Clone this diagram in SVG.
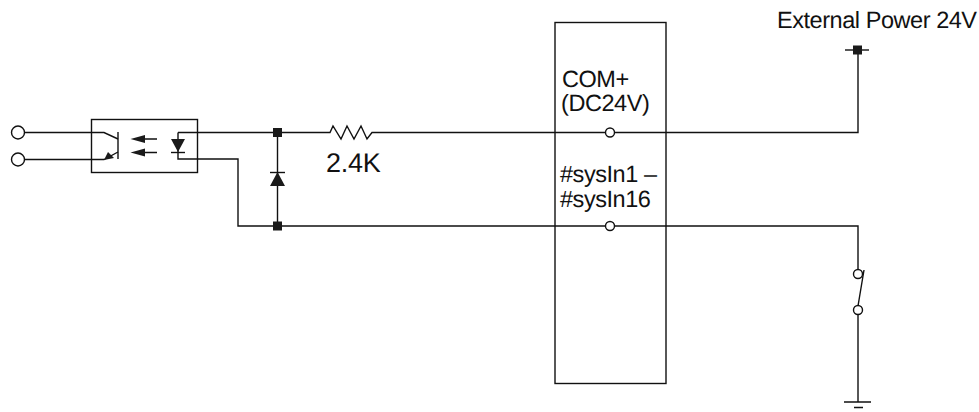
<svg xmlns="http://www.w3.org/2000/svg" width="979" height="412" viewBox="0 0 979 412">
<style>
.w{fill:none;stroke:#111;stroke-width:1.4}
.o{fill:#fff;stroke:#111;stroke-width:1.4}
.k{fill:#1a1a1a;stroke:none}
.t{font-family:"Liberation Sans",Arial,sans-serif;font-size:23.5px;letter-spacing:-0.45px;text-rendering:geometricPrecision;fill:#111}
</style>
<rect width="979" height="412" fill="#fff"/>
<g id="connectors">
<path class="w" d="M25 132.500H104L118 139M25 159.500H104L118 152"/>
<path class="w" d="M178 132.500H330L333 126L341 139L347 126L354 139L361 126L367 139L372 132.500H605"/>
<path class="w" d="M178 132.500V159H238V226H605"/>
<path class="w" d="M277.500 132.500V226"/>
<path class="w" d="M615 132.500H858V50"/>
<path class="w" d="M615 226H858V270"/>
<path class="w" d="M864 270L858 306M858 315V402"/>
</g>
<g id="input-1"><circle class="o" cx="18" cy="132.500" r="6.500"/></g>
<g id="input-2"><circle class="o" cx="18" cy="159.500" r="6.500"/></g>
<g id="optocoupler">
<rect class="w" x="91.500" y="119.500" width="106" height="53"/>
<path class="w" d="M118 132V159"/>
<path class="k" d="M104 160L108 152L114 158Z"/>
<path class="w" d="M144 139H157M144 152.500H157"/>
<path class="k" d="M130.500 139L145 135V143ZM130.500 152.500L145 148.500V156.500Z"/>
<path class="k" d="M171 139H185L178 152Z"/>
<path class="w" d="M171 152.500H185"/>
</g>
<g id="node-top"><rect class="k" x="273" y="128" width="9" height="9"/></g>
<g id="node-bottom"><rect class="k" x="273" y="221.500" width="9" height="9"/></g>
<g id="flyback-diode">
<path class="k" d="M270 186H285L277.500 172Z"/>
<path class="w" d="M270 172.500H285"/>
</g>
<g id="resistor-label"><text class="t" x="326" y="172" style="font-size:27px;letter-spacing:-0.3px">2.4K</text></g>
<g id="terminal-block">
<rect class="w" x="555" y="22.500" width="111" height="361"/>
<text class="t" x="562" y="87">COM+</text>
<text class="t" x="561" y="111">(DC24V)</text>
<text class="t" x="560" y="182">#sysIn1 –</text>
<text class="t" x="560" y="207">#sysIn16</text>
<circle class="o" cx="610" cy="132.500" r="4.500"/>
<circle class="o" cx="610" cy="226" r="4.500"/>
</g>
<g id="power">
<text class="t" x="777" y="28">External Power 24V</text>
<path class="w" d="M845 50H869"/>
<rect class="k" x="853" y="45.500" width="9" height="9"/>
</g>
<g id="switch">
<circle class="o" cx="858" cy="274" r="4.500"/>
<circle class="o" cx="858" cy="310" r="4.500"/>
</g>
<g id="ground">
<path class="w" d="M844 402H871M854 407.500H863"/>
</g>
</svg>
